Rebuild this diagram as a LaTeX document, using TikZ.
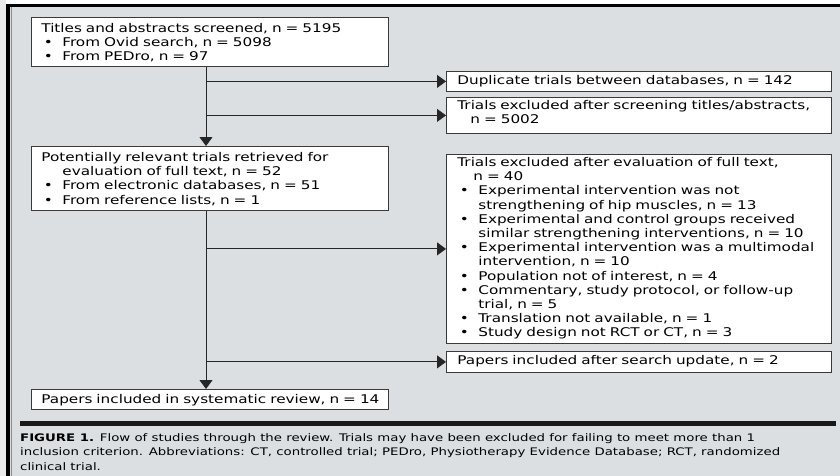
\documentclass[tikz,border=0pt]{standalone}
\usepackage{fontspec}
\setmainfont{DejaVu Sans}[FakeStretch=1.28]
\newfontfamily\boxfont{DejaVu Sans}[FakeStretch=1.27]
\usetikzlibrary{arrows.meta,calc}
\definecolor{bg}{HTML}{DCDFE1}
\definecolor{edge}{HTML}{3A3A3A}
\newcommand\lines[2][0pt]{\raisebox{-#1}[\height][\depth]{\begin{tabular}{@{}l@{}}#2\end{tabular}}}
\newcommand\bul{\makebox[21pt][l]{\hspace{2.5pt}\textbullet}}
\newcommand\ind{\hspace*{21pt}}
\tikzset{
  lbox/.style={draw=edge, line width=0.8pt, fill=white, anchor=north west, inner xsep=10pt, inner ysep=0pt,
    text width=337pt, align=left, font=\boxfont\fontsize{12}{14.2}\selectfont},
  rbox/.style={lbox, inner xsep=11pt, text width=363pt},
  conn/.style={draw=black!85, line width=0.9pt},
  arr/.style={conn, -{Triangle[length=9pt,width=13pt]}},
  captxt/.style={inner sep=0pt, anchor=base west, align=left, font=\fontsize{10.4}{14.2}\selectfont}
}
\begin{document}
\begin{tikzpicture}[x=1pt,y=-1pt]
\useasboundingbox (0,0) rectangle (840,476);
% background and frame
\fill[white] (0,0) rectangle (840,476);
\fill[black!8] (0,0) rectangle (6,476);
\fill[bg] (6,4) rectangle (840,476);
\fill[black] (6,4) rectangle (840,7.5);
\fill[black] (6,4) rectangle (9.5,476);
\draw[black!45, line width=0.6pt] (11.5,7.5) -- (11.5,476);
\fill[black!90] (20,421) rectangle (836,426);

% boxes
\node[lbox, minimum height=49pt] (b1) at (31,17) {\lines[2pt]{Titles and abstracts screened, n = 5195\\
\bul From Ovid search, n = 5098\\
\bul From PEDro, n = 97}};
\node[lbox, minimum height=64pt] (b2) at (31,146) {\lines[1.5pt]{Potentially relevant trials retrieved for\\
\ind evaluation of full text, n = 52\\
\bul From electronic databases, n = 51\\
\bul From reference lists, n = 1}};
\node[lbox, minimum height=20pt] (fin) at (31,389) {\lines[1.2pt]{Papers included in systematic review, n = 14}};

\node[rbox, minimum height=20pt] (dup) at (446,71) {\lines{Duplicate trials between databases, n = 142}};
\node[rbox, minimum height=36pt] (ex1) at (446,97) {\lines[-2pt]{Trials excluded after screening titles/abstracts,\\
\hspace*{13pt}n = 5002}};
\node[rbox, minimum height=189pt] (ex2) at (446,154) {\lines{Trials excluded after evaluation of full text,\\
\hspace*{16pt}n = 40\\
\bul Experimental intervention was not\\
\ind strengthening of hip muscles, n = 13\\
\bul Experimental and control groups received\\
\ind similar strengthening interventions, n = 10\\
\bul Experimental intervention was a multimodal\\
\ind intervention, n = 10\\
\bul Population not of interest, n = 4\\
\bul Commentary, study protocol, or follow-up\\
\ind trial, n = 5\\
\bul Translation not available, n = 1\\
\bul Study design not RCT or CT, n = 3}};
\node[rbox, minimum height=21pt] (upd) at (446,351) {\lines{Papers included after search update, n = 2}};

% connectors
\coordinate (mx) at (206,0);
\draw[arr] (mx |- b1.south) -- (mx |- b2.north);
\draw[arr] (mx |- b2.south) -- (mx |- fin.north);
\draw[arr] (mx |- dup.west) -- (dup.west);
\draw[arr] (mx |- ex1.west) -- (ex1.west);
\draw[arr] (mx |- ex2.west) -- (ex2.west);
\draw[arr] (mx |- upd.west) -- (upd.west);

% caption
\node[captxt] (capt) at (20,441.7) {\begin{tabular}[t]{@{}l@{}}\textbf{FIGURE 1.} Flow of studies through the review. Trials may have been excluded for failing to meet more than 1\\
inclusion criterion. Abbreviations: CT, controlled trial; PEDro, Physiotherapy Evidence Database; RCT, randomized\\
clinical trial.\end{tabular}};
\end{tikzpicture}
\end{document}
